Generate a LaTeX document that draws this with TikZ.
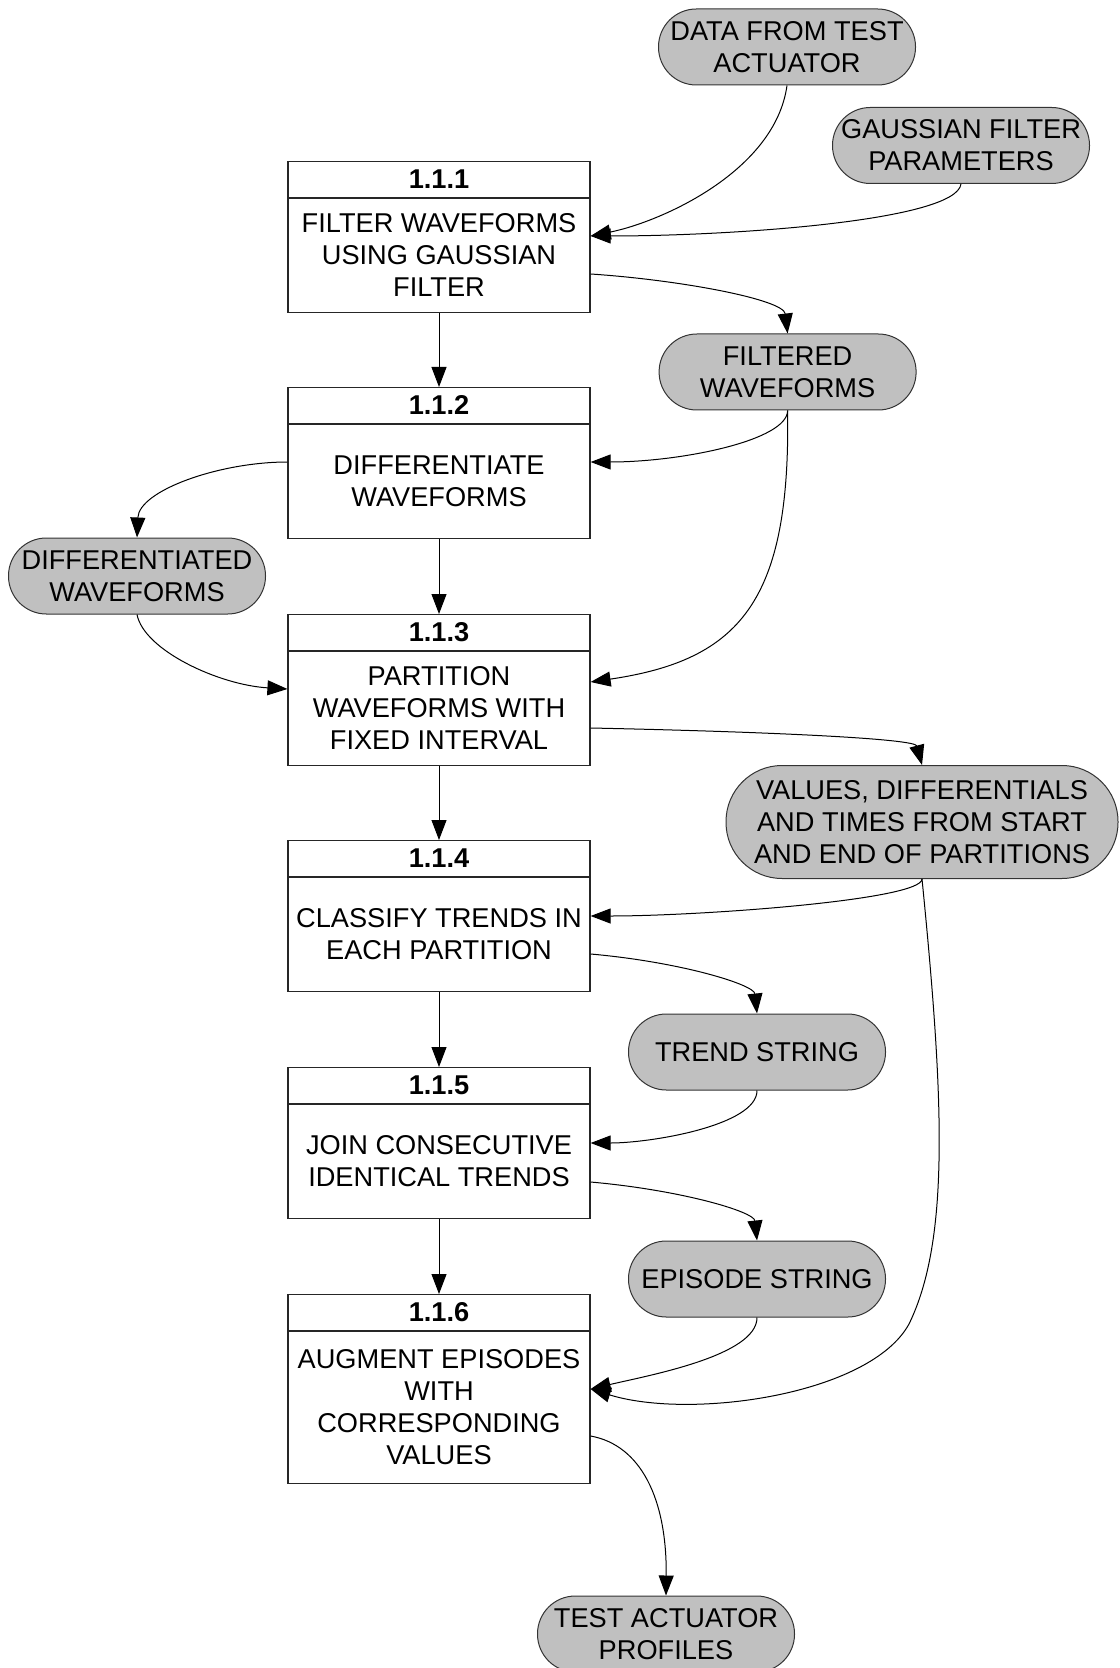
\documentclass[tikz,border=0pt]{standalone}
\usepackage{fontspec}
\setmainfont{Liberation Sans}
\usetikzlibrary{arrows.meta,calc}
\definecolor{termgray}{HTML}{C0C0C0}
\begin{document}
\begin{tikzpicture}[x=0.5pt,y=-0.5pt,
  proc/.style={draw=black!85, line width=0.6pt, fill=white, minimum width=151pt, minimum height=75.5pt, inner sep=0pt, anchor=north},
  boxline/.style={draw=black!85, line width=0.6pt},
  term/.style={draw=black!80, line width=0.5pt, fill=termgray, rounded corners=18.9pt, minimum width=128.5pt, minimum height=38pt, align=center, inner sep=0pt, font=\fontsize{13.6}{16}\selectfont},
  txt/.style={align=center, font=\fontsize{13.6}{16}\selectfont, inner sep=0pt},
  hdr/.style={font=\fontsize{13.6}{16}\selectfont\bfseries, inner sep=0pt},
  arr/.style={-{Triangle[length=10pt,width=7.5pt]}, line width=0.5pt},
]
\useasboundingbox (0,0) rectangle (1119,1668);

% process boxes
\node[proc] (b1) at (439,161) {};
\node[proc] (b2) at (439,387) {};
\node[proc] (b3) at (439,614) {};
\node[proc] (b4) at (439,840) {};
\node[proc] (b5) at (439,1067) {};
\node[proc, minimum height=94.5pt] (b6) at (439,1294) {};

\foreach \b in {b1,b2,b3,b4,b5,b6}{
  \draw[boxline] ($(\b.north west)+(0,37)$) -- ($(\b.north east)+(0,37)$);
}

\node[hdr] (b1n) at ($(b1.north)+(0,18.5)$) {1.1.1};
\node[hdr] (b2n) at ($(b2.north)+(0,18.5)$) {1.1.2};
\node[hdr] (b3n) at ($(b3.north)+(0,18.5)$) {1.1.3};
\node[hdr] (b4n) at ($(b4.north)+(0,18.5)$) {1.1.4};
\node[hdr] (b5n) at ($(b5.north)+(0,18.5)$) {1.1.5};
\node[hdr] (b6n) at ($(b6.north)+(0,18.5)$) {1.1.6};

\node[txt] (b1t) at ($(b1.north)+(0,94)$) {FILTER WAVEFORMS\\USING GAUSSIAN\\FILTER};
\node[txt] (b2t) at ($(b2.north)+(0,94)$) {DIFFERENTIATE\\WAVEFORMS};
\node[txt] (b3t) at ($(b3.north)+(0,94)$) {PARTITION\\WAVEFORMS WITH\\FIXED INTERVAL};
\node[txt] (b4t) at ($(b4.north)+(0,94)$) {CLASSIFY TRENDS IN\\EACH PARTITION};
\node[txt] (b5t) at ($(b5.north)+(0,94)$) {JOIN CONSECUTIVE\\IDENTICAL TRENDS};
\node[txt] (b6t) at ($(b6.north)+(0,113)$) {AUGMENT EPISODES\\WITH\\CORRESPONDING\\VALUES};

% terminators
\node[term] (data) at (787,47) {DATA FROM TEST\\ACTUATOR};
\node[term] (gauss) at (961,145.5) {GAUSSIAN FILTER\\PARAMETERS};
\node[term] (filt) at (787.6,372) {FILTERED\\WAVEFORMS};
\node[term] (diff) at (137,576) {DIFFERENTIATED\\WAVEFORMS};
\node[term, minimum width=196pt, minimum height=56.5pt, rounded corners=28pt] (vals) at (922,822) {VALUES, DIFFERENTIALS\\AND TIMES FROM START\\AND END OF PARTITIONS};
\node[term] (trend) at (757,1052) {TREND STRING};
\node[term] (epis) at (757,1279) {EPISODE STRING};
\node[term] (tap) at (666,1634) {TEST ACTUATOR\\PROFILES};

% straight flows
\draw[arr] (b1.south) -- (b2.north);
\draw[arr] (b2.south) -- (b3.north);
\draw[arr] (b3.south) -- (b4.north);
\draw[arr] (b4.south) -- (b5.north);
\draw[arr] (b5.south) -- (b6.north);

% curved flows
\draw[arr] (data.south) .. controls +(-12,86) and +(70,-14) .. ($(b1.north east)+(0,75)$);
\draw[arr] (gauss.south) .. controls +(-5,37) and +(140,0) .. ($(b1.north east)+(0,75)$);
\draw[arr] ($(b1.north east)+(0,113)$) .. controls +(90,6) and +(-4,-34) .. (filt.north);
\draw[arr] (filt.south) .. controls +(0,30) and +(90,0) .. ($(b2.north east)+(0,75)$);
\draw[arr] (filt.south) .. controls +(3,190) and +(150,-22) .. ($(b3.north east)+(0,68)$);
\draw[arr] ($(b2.north west)+(0,75)$) .. controls +(-68,0) and +(2,-47) .. (diff.north);
\draw[arr] (diff.south) .. controls +(7,36) and +(-68,-4) .. ($(b3.north west)+(0,75)$);
\draw[arr] ($(b3.north east)+(0,114)$) .. controls +(190,4) and +(-7,-26) .. (vals.north);
\draw[arr] (vals.south) .. controls +(0,21) and +(110,0) .. ($(b4.north east)+(0,76)$);
\draw[arr] (vals.south) .. controls +(22,221) and +(41,-84) .. (909,1324)
   .. controls +(-39,71) and +(100,31) .. ($(b6.north east)+(0,95)$);
\draw[arr] ($(b4.north east)+(0,114)$) .. controls +(90,8) and +(-3,-29) .. (trend.north);
\draw[arr] (trend.south) .. controls +(0,35) and +(60,0) .. ($(b5.north east)+(0,76)$);
\draw[arr] ($(b5.north east)+(0,115)$) .. controls +(90,8) and +(-3,-29) .. (epis.north);
\draw[arr] (epis.south) .. controls +(0,38) and +(60,-14) .. ($(b6.north east)+(0,95)$);
\draw[arr] ($(b6.north east)+(0,142)$) .. controls +(50,9) and +(1,-97) .. (tap.north);
\end{tikzpicture}
\end{document}
